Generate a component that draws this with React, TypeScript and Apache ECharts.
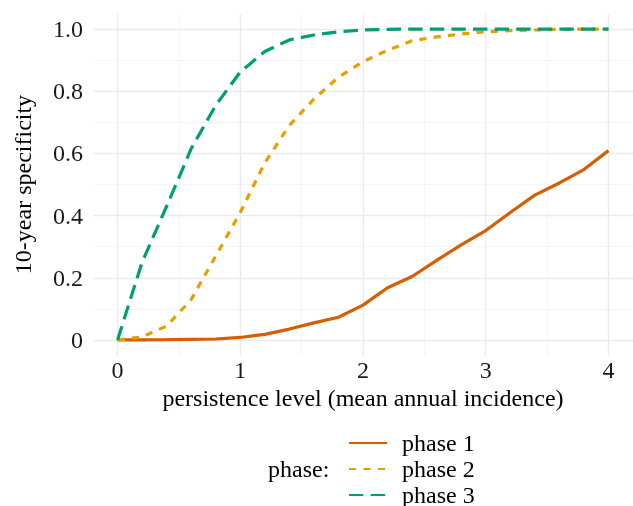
import React, { useEffect, useRef } from "react";
import * as echarts from "echarts";

const xValues = [0, 0.2, 0.4, 0.6, 0.8, 1.0, 1.2, 1.4, 1.6, 1.8, 2.0, 2.2, 2.4, 2.6, 2.8, 3.0, 3.2, 3.4, 3.6, 3.8, 4.0];
const phase1 = [0, 0.0005, 0.001, 0.002, 0.003, 0.008, 0.018, 0.035, 0.055, 0.073, 0.112, 0.168, 0.204, 0.256, 0.306, 0.352, 0.41, 0.466, 0.505, 0.548, 0.609];
const phase2 = [0, 0.01, 0.045, 0.13, 0.27, 0.41, 0.57, 0.69, 0.775, 0.845, 0.895, 0.932, 0.962, 0.975, 0.984, 0.991, 0.995, 0.997, 0.999, 1.0, 1.0];
const phase3 = [0, 0.25, 0.43, 0.615, 0.755, 0.862, 0.928, 0.965, 0.981, 0.991, 0.997, 0.999, 1.0, 1.0, 1.0, 1.0, 1.0, 1.0, 1.0, 1.0, 1.0];
const seriesNames = ["phase 1", "phase 2", "phase 3"];
const xMajor = [0, 1, 2, 3, 4];
const xMinor = [0.5, 1.5, 2.5, 3.5];
const yMajor = [0, 0.2, 0.4, 0.6, 0.8, 1.0];
const yMinor = [0.1, 0.3, 0.5, 0.7, 0.9];

const FONT = "'Liberation Serif', 'Times New Roman', serif";
const FS = 24;

export default function App() {
  const ref = useRef<HTMLDivElement>(null);
  useEffect(() => {
    if (!ref.current) return;
    const chart = echarts.init(ref.current, undefined, { renderer: "svg" });
    const pairs = (ys: number[]) => xValues.map((x, i) => [x, ys[i]]);
    const majorStyle = { color: "#ebebeb", width: 1.4, type: "solid" as const };
    const minorStyle = { color: "#f3f3f3", width: 0.8, type: "solid" as const };
    const gridLines = [
      ...xMajor.map((v) => ({ xAxis: v, lineStyle: majorStyle })),
      ...xMinor.map((v) => ({ xAxis: v, lineStyle: minorStyle })),
      ...yMajor.map((v) => ({ yAxis: v, lineStyle: majorStyle })),
      ...yMinor.map((v) => ({ yAxis: v, lineStyle: minorStyle })),
    ];
    const colors = ["#D55E00", "#E69F00", "#009E73"];
    const dashes: any[] = ["solid", [7.2, 7.2], [14.4, 7.2]];
    const datasets = [phase1, phase2, phase3];
    const rowCenters = [443.3, 469.5, 495.3];
    chart.setOption({
      animation: false,
      textStyle: { fontFamily: FONT },
      grid: { left: 93, right: -4.5, top: 13.5, bottom: 150.5 },
      xAxis: {
        type: "value",
        min: -0.2,
        max: 4.2,
        name: "persistence level (mean annual incidence)",
        nameLocation: "middle",
        nameGap: 26,
        nameTextStyle: { fontFamily: FONT, fontSize: FS, color: "#000" },
        axisLine: { show: false },
        axisTick: { show: false },
        splitLine: { show: false },
        axisLabel: {
          customValues: xMajor,
          fontFamily: FONT,
          fontSize: FS,
          color: "#1a1a1a",
          margin: 2,
          formatter: (v: number) => (Number.isInteger(v) && v >= 0 && v <= 4 ? String(v) : ""),
        },
      },
      yAxis: {
        type: "value",
        min: -0.05,
        max: 1.05,
        name: "10-year specificity",
        nameLocation: "middle",
        nameRotate: 90,
        nameGap: 58,
        nameTextStyle: { fontFamily: FONT, fontSize: FS, color: "#000" },
        axisLine: { show: false },
        axisTick: { show: false },
        splitLine: { show: false },
        axisLabel: {
          customValues: yMajor,
          fontFamily: FONT,
          fontSize: FS,
          color: "#1a1a1a",
          margin: 10,
          formatter: (v: number) => {
            const k = Math.round(v * 5);
            if (Math.abs(v * 5 - k) > 1e-6 || k < 0 || k > 5) return "";
            return k === 0 ? "0" : (k / 5).toFixed(1);
          },
        },
      },
      legend: seriesNames.map((name, i) => ({
        data: [name],
        orient: "horizontal",
        left: 348,
        top: rowCenters[i] - 12.4,
        width: 160,
        height: 30,
        padding: 0,
        itemWidth: 38,
        itemHeight: 14,
        itemStyle: { opacity: 0, borderWidth: 0 },
        textStyle: { fontFamily: FONT, fontSize: FS, color: "#000", padding: [0, 0, 0, 10], overflow: "none" },
      })),
      graphic: [
        {
          type: "text",
          left: 268,
          top: 457,
          style: { text: "phase:", fontFamily: FONT, fontSize: FS, fill: "#000" },
        },
      ],
      series: [
        {
          name: "grid",
          type: "line",
          data: [],
          z: 1,
          silent: true,
          markLine: { silent: true, z: 1, symbol: "none", label: { show: false }, data: gridLines, animation: false },
        },
        ...seriesNames.map((name, i) => ({
          name,
          type: "line",
          z: 3,
          data: pairs(datasets[i]),
          showSymbol: false,
          symbol: "none",
          color: colors[i],
          lineStyle: { color: colors[i], width: 3.2, type: dashes[i], cap: "butt" },
        })),
      ],
    });
    return () => chart.dispose();
  }, []);
  return <div ref={ref} style={{ position: "fixed", left: 0, top: 0, width: 633, height: 506 }} />;
}
